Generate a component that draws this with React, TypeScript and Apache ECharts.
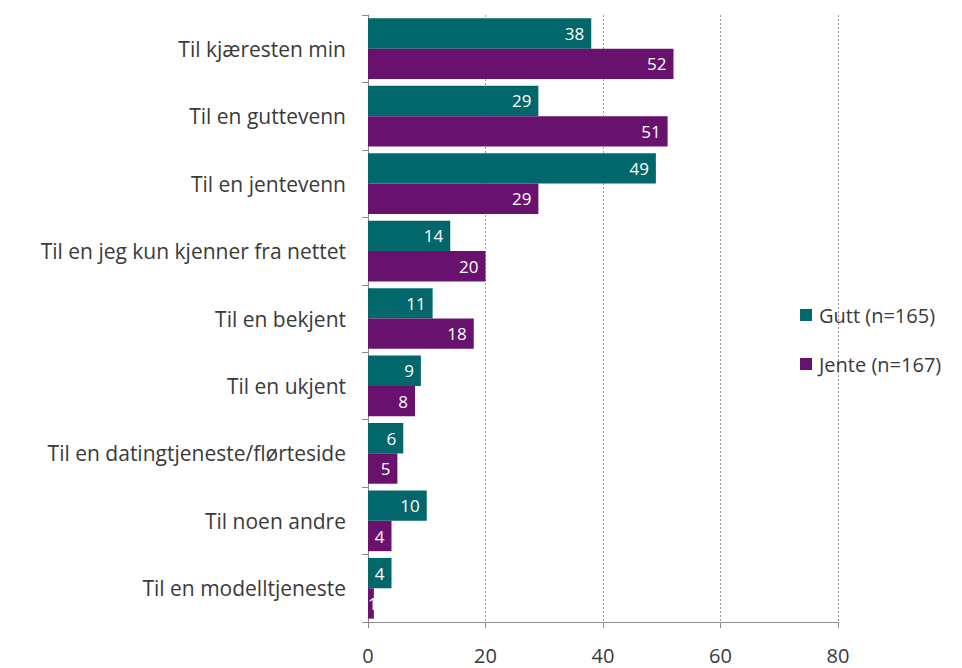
import React, { useEffect, useRef } from "react";
import * as echarts from "echarts";

const categories = [
  "Til kjæresten min",
  "Til en guttevenn",
  "Til en jentevenn",
  "Til en jeg kun kjenner fra nettet",
  "Til en bekjent",
  "Til en ukjent",
  "Til en datingtjeneste/flørteside",
  "Til noen andre",
  "Til en modelltjeneste",
];
const gutt = [38, 29, 49, 14, 11, 9, 6, 10, 4];
const jente = [52, 51, 29, 20, 18, 8, 5, 4, 1];
const seriesNames = ["Gutt (n=165)", "Jente (n=167)"];
const xTicks = [0, 20, 40, 60, 80];

const FONT = "'Open Sans', 'Liberation Sans', sans-serif";

export default function App() {
  const ref = useRef<HTMLDivElement>(null);
  useEffect(() => {
    document.body.style.margin = "0";
    if (!ref.current) return;
    const chart = echarts.init(ref.current, undefined, { renderer: "svg" });
    const label = {
      show: true,
      position: "insideRight",
      distance: 7,
      color: "#ffffff",
      fontFamily: FONT,
      fontSize: 17,
    };
    const toData = (arr: number[]) =>
      arr.map((v) =>
        v < 2 ? { value: v, label: { position: "insideLeft", distance: 0 } } : v
      );
    chart.setOption({
      animation: false,
      backgroundColor: "#ffffff",
      legend: {
        orient: "vertical",
        left: 795,
        top: 300,
        itemWidth: 12,
        itemHeight: 12,
        itemGap: 29,
        icon: "rect",
        textStyle: { fontFamily: FONT, fontSize: 20, color: "#3a3a3a", padding: [0, 0, 0, 2] },
        data: seriesNames,
      },
      grid: { left: 368, right: 124, top: 15, bottom: 46, containLabel: false },
      xAxis: {
        type: "value",
        min: xTicks[0],
        max: xTicks[xTicks.length - 1],
        interval: 20,
        axisLine: { show: true, lineStyle: { color: "#8c8c8c", width: 1 } },
        axisTick: { show: true, length: 6, lineStyle: { color: "#8c8c8c" } },
        axisLabel: { fontFamily: FONT, fontSize: 20, color: "#3a3a3a", margin: 23 },
        splitLine: { show: true, lineStyle: { color: "#9a9a9a", type: [2, 2], width: 1 } },
      },
      yAxis: {
        type: "category",
        data: categories,
        inverse: true,
        axisLine: { show: true, lineStyle: { color: "#8c8c8c", width: 1 } },
        axisTick: { show: true, length: 6, inside: false, lineStyle: { color: "#8c8c8c" } },
        axisLabel: { fontFamily: FONT, fontSize: 21, color: "#3a3a3a", margin: 22 },
      },
      series: [
        {
          name: seriesNames[0],
          type: "bar",
          data: toData(gutt),
          itemStyle: { color: "#02676A" },
          barGap: "0%",
          barCategoryGap: "10%",
          label,
        },
        {
          name: seriesNames[1],
          type: "bar",
          data: toData(jente),
          itemStyle: { color: "#68126E" },
          barGap: "0%",
          barCategoryGap: "10%",
          label,
        },
      ],
    });
    return () => chart.dispose();
  }, []);
  return <div ref={ref} style={{ width: 962, height: 668 }} />;
}
